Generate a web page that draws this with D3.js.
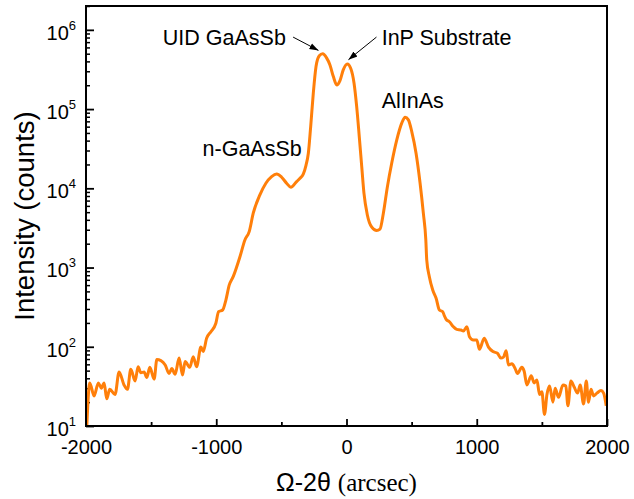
<!DOCTYPE html>
<html lang="en">
<head>
    <meta charset="utf-8">
    <title>XRD scan</title>
    <script src="https://cdn.jsdelivr.net/npm/d3@7"></script>
    <style type="text/css">
        body { margin: 0; background: #fff; }
        text { font-family: "Liberation Sans", Arial, sans-serif; fill: #000; }
        .axis path, .axis line { stroke: #000; }
        .axis path { display: none; }
    </style>
</head>
<body>
<div id="chart"></div>

<script>
// Omega-2theta scan
const angle = [-1995, -1971, -1938, -1905, -1882, -1861, -1841, -1818, -1777, -1746, -1708, -1682,
    -1656, -1623, -1600, -1579, -1554, -1533, -1510, -1477, -1456, -1425, -1392, -1362, -1341,
    -1316, -1285, -1259, -1239, -1203, -1177, -1151, -1118, -1100, -1074, -1041, -1003, -982,
    -951, -926, -900, -870, -818, -780, -747, -716, -665, -619, -575, -536, -498, -460, -427,
    -383, -357, -332, -311, -293, -275, -255, -234, -209, -183, -152, -127, -101, -75, -50, -25,
    6, 32, 58, 78, 98, 117, 134, 160, 194, 232, 257, 283, 314, 347, 386, 424, 450, 475, 501,
    534, 565, 590, 609, 616, 636, 662, 688, 713, 739, 749, 765, 790, 821, 847, 878, 898, 924,
    944, 974, 1000, 1021, 1057, 1090, 1124, 1159, 1185, 1205, 1226, 1243, 1270, 1295, 1313,
    1346, 1364, 1385, 1418, 1441, 1462, 1482, 1500, 1520, 1539, 1559, 1585, 1602, 1628, 1662,
    1684, 1700, 1723, 1748, 1774, 1794, 1820, 1841, 1858, 1877, 1897, 1923, 1954, 1974, 1994];
const counts = [9, 35, 24, 35, 30, 35, 22, 29, 25, 48, 33, 29,
    52, 37, 56, 47, 48, 41, 55, 39, 69, 67, 59, 46, 53,
    45, 72, 44, 65, 55, 75, 56, 99, 87, 128, 155, 198, 277,
    291, 389, 603, 767, 1371, 2230, 2840, 4850, 8260, 11600, 14060, 15200, 13800, 11600, 10300,
    12160, 13400, 15100, 19500, 27700, 60200, 158000, 344000, 470000, 498000, 440000, 361000, 257000, 202000, 229000, 313000,
    372000, 328000, 212000, 108000, 45000, 18800, 8670, 4610, 3230, 2930, 3050, 4850, 10500, 20700, 40800, 66400, 79000, 73100, 52000,
    27700, 11600, 4850, 2230, 1250, 767, 521, 409, 291, 277, 252, 222, 207, 179, 166, 163, 158, 179,
    134, 122, 122, 93, 128, 99, 87, 83, 72, 74, 89, 59, 61, 53, 46,
    55, 49, 33, 43, 35, 38, 25, 27, 14, 25, 32, 20, 30, 23, 33,
    32, 18, 37, 31, 26, 33, 19, 37, 20, 29, 24, 26, 28, 26, 18];

const xTicks = [-2000, -1000, 0, 1000, 2000];
const xMinor = [-1500, -500, 500, 1500];
const yTicks = [1e1, 1e2, 1e3, 1e4, 1e5, 1e6];

// peak labels: text, anchor point in data units, and arrow (if any)
const labels = [
    {text: "UID GaAsSb", x: -1410, y: 6.5e5},
    {text: "InP Substrate", x: 270, y: 6.5e5},
    {text: "AlInAs", x: 270, y: 1.02e5},
    {text: "n-GaAsSb", x: -1105, y: 2.55e4}
];
const arrows = [
    {x1: -410, y1: 8.1e5, x2: -215, y2: 5.5e5},
    {x1: 230, y1: 8.1e5, x2: 15, y2: 4.2e5}
];

const margin = {top: 6, right: 27, bottom: 73, left: 86},
    width = 634 - margin.left - margin.right,
    height = 499 - margin.top - margin.bottom;

const x = d3.scaleLinear().domain([-2000, 2000]).range([0, width]);
const y = d3.scaleLog().domain([10, 2e6]).range([height, 0]);

const root = d3.select("#chart").append("svg")
    .attr("width", 634)
    .attr("height", 499);

root.append("defs").append("marker")
    .attr("id", "head")
    .attr("viewBox", "0 0 10 10")
    .attr("refX", 10).attr("refY", 5)
    .attr("markerWidth", 9).attr("markerHeight", 9)
    .attr("markerUnits", "userSpaceOnUse")
    .attr("orient", "auto")
    .append("path")
    .attr("d", "M0,1.5 L10,5 L0,8.5 Z")
    .attr("fill", "#000");

root.select("defs").append("clipPath")
    .attr("id", "clip")
    .append("rect")
    .attr("width", width).attr("height", height);

const svg = root.append("g")
    .attr("transform", "translate(" + margin.left + "," + margin.top + ")");

// x axis (ticks inside)
svg.append("g")
    .attr("class", "axis")
    .attr("transform", "translate(0," + height + ")")
    .call(d3.axisBottom(x).tickValues(xTicks).tickSize(-7).tickPadding(14)
        .tickFormat(d => String(d)))
    .call(g => g.selectAll("line").attr("stroke-width", 1.8))
    .call(g => g.selectAll("text").style("font-size", "20px"));

svg.append("g")
    .attr("class", "axis")
    .attr("transform", "translate(0," + height + ")")
    .call(d3.axisBottom(x).tickValues(xMinor).tickSize(-4).tickFormat(""))
    .call(g => g.selectAll("line").attr("stroke-width", 1.8));

// y axis (log, ticks inside)
const yMinor = [];
yTicks.forEach(t => { for (let k = 2; k <= 9; k++) if (t * k <= 2e6) yMinor.push(t * k); });

svg.append("g")
    .attr("class", "axis")
    .call(d3.axisLeft(y).tickValues(yMinor).tickSize(-4).tickFormat(""))
    .call(g => g.selectAll("line").attr("stroke-width", 1.5));

svg.append("g")
    .attr("class", "axis")
    .call(d3.axisLeft(y).tickValues(yTicks).tickSize(-8).tickPadding(10))
    .call(g => g.selectAll("line").attr("stroke-width", 1.8))
    .call(g => g.selectAll("text")
        .text(null)
        .attr("dy", null)
        .style("font-size", "20px")
        .each(function(d) {
            const t = d3.select(this);
            t.append("tspan").attr("dy", 9.3).text("10");
            t.append("tspan").attr("dy", -10).style("font-size", "13px")
                .text(Math.round(Math.log10(d)));
        }));

// the scan
const line = d3.line()
    .x((d, i) => x(angle[i]))
    .y((d, i) => y(counts[i]))
    .curve(d3.curveMonotoneX);

svg.append("path")
    .datum(counts)
    .attr("clip-path", "url(#clip)")
    .attr("fill", "none")
    .attr("stroke", "#ff7f0a")
    .attr("stroke-width", 3)
    .attr("stroke-linejoin", "round")
    .attr("d", line);

// frame
svg.append("rect")
    .attr("width", width)
    .attr("height", height)
    .attr("fill", "none")
    .attr("stroke", "#000")
    .attr("stroke-width", 2);

// annotations
svg.selectAll(".peak")
    .data(labels)
    .enter().append("text")
    .attr("class", "peak")
    .attr("x", d => x(d.x))
    .attr("y", d => y(d.y))
    .style("font-size", "21.5px")
    .text(d => d.text);

svg.selectAll(".arrow")
    .data(arrows)
    .enter().append("line")
    .attr("class", "arrow")
    .attr("x1", d => x(d.x1)).attr("y1", d => y(d.y1))
    .attr("x2", d => x(d.x2)).attr("y2", d => y(d.y2))
    .attr("stroke", "#000")
    .attr("stroke-width", 1)
    .attr("marker-end", "url(#head)");

// axis titles
const xt = svg.append("text")
    .attr("x", width / 2)
    .attr("y", height + 65)
    .attr("text-anchor", "middle")
    .style("font-size", "25px");
xt.append("tspan").text("Ω-2θ ");
xt.append("tspan").style("font-family", "'Liberation Serif', 'Times New Roman', serif")
    .style("font-size", "25px").text("(arcsec)");

svg.append("text")
    .attr("transform", "translate(" + (34 - margin.left) + "," + (height / 2) + ") rotate(-90)")
    .attr("text-anchor", "middle")
    .style("font-size", "27.5px")
    .text("Intensity (counts)");
</script>
</body>
</html>
